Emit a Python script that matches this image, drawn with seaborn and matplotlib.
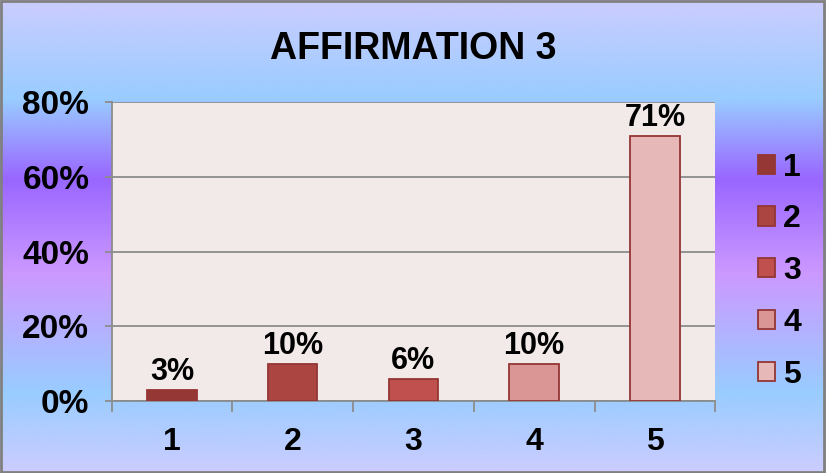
import numpy as np
import pandas as pd
import seaborn as sns
import matplotlib as mpl
mpl.use('Agg')
import matplotlib.pyplot as plt
from matplotlib.colors import LinearSegmentedColormap
from matplotlib.patches import Rectangle

categories = ['1', '2', '3', '4', '5']
values = [3, 10, 6, 10, 71]
labels = ['3%', '10%', '6%', '10%', '71%']
colors = ['#953735', '#ab4542', '#c0504d', '#d99694', '#e6b9b8']

df = pd.DataFrame({'rep': categories, 'pct': values})

sns.set_theme(style='white')
plt.rcParams['font.family'] = ['Liberation Sans', 'DejaVu Sans']
plt.rcParams['font.weight'] = 'bold'
plt.rcParams['text.color'] = 'black'
plt.rcParams['xtick.color'] = 'black'
plt.rcParams['ytick.color'] = 'black'

fig = plt.figure(figsize=(8.26, 4.73), dpi=100)

# gradient background over the whole figure
bg = fig.add_axes([0, 0, 1, 1], zorder=-10)
bgcmap = LinearSegmentedColormap.from_list('bg', [
    (0.0, '#ccccff'), (0.21, '#99ccff'), (0.38, '#9966ff'),
    (0.58, '#cc99ff'), (0.83, '#99ccff'), (1.0, '#ccccff')])
bg.imshow(np.linspace(0, 1, 256).reshape(-1, 1), aspect='auto', cmap=bgcmap,
          extent=[0, 1, 0, 1], origin='upper')
bg.add_patch(Rectangle((0.001, 0.002), 0.997, 0.995, fill=False, ec='#808080', lw=2,
                       transform=bg.transAxes))
bg.axis('off')

ax = fig.add_axes([0.135, 0.152, 0.731, 0.632])
ax.set_facecolor('#f2e9e9')
sns.barplot(data=df, x='rep', y='pct', hue='rep', palette=colors, width=0.41,
            saturation=1, edgecolor='#943634', linewidth=1.3, legend=True, ax=ax,
            zorder=3)

for cont, lab in zip(ax.containers, labels):
    ax.bar_label(cont, labels=[lab], padding=2, fontsize=22, fontweight='bold',
                 color='black')

ax.set_ylim(0, 80)
ax.set_yticks([0, 20, 40, 60, 80])
ax.set_yticklabels(['0%', '20%', '40%', '60%', '80%'], fontsize=24, fontweight='bold')
ax.yaxis.grid(True, color='#8c8c8c', lw=1.3, zorder=0)
ax.set_axisbelow(True)
ax.set_xlim(-0.5, 4.5)
ax.set_xticks([-0.5, 0.5, 1.5, 2.5, 3.5, 4.5])
ax.set_xticklabels([])
ax.set_xticks(range(5), minor=True)
ax.set_xticklabels(categories, minor=True, fontsize=23, fontweight='bold')
ax.tick_params(axis='x', which='major', direction='out', length=8, width=1.3,
               color='#8c8c8c', bottom=True)
ax.tick_params(axis='x', which='minor', length=0, pad=19)
ax.tick_params(axis='y', direction='out', length=5, width=1.3, color='#8c8c8c',
               left=True, pad=11)
ax.set_xlabel('')
ax.set_ylabel('')
for side in ['top', 'right']:
    ax.spines[side].set_visible(False)
for side in ['left', 'bottom']:
    ax.spines[side].set_color('#8c8c8c')
    ax.spines[side].set_linewidth(1.3)

leg = ax.legend(loc='center left', bbox_to_anchor=(1.07, 0.435), frameon=False,
                prop={'size': 23, 'weight': 'bold'}, handlelength=0.55,
                handleheight=0.55, handletextpad=0.25, labelspacing=0.68,
                borderpad=0, borderaxespad=0)
for h in leg.legend_handles:
    h.set_edgecolor('#943634')

fig.text(0.5, 0.897, 'AFFIRMATION 3', ha='center', va='center', fontsize=27,
         fontweight='bold', family=['Liberation Sans Narrow', 'Liberation Sans'])

fig.savefig('out.png', dpi=100)
